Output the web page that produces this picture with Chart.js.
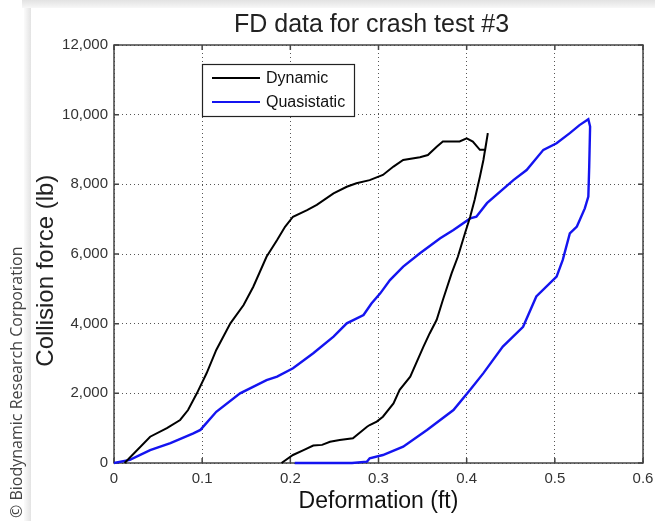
<!DOCTYPE html>
<html>
<head>
<meta charset="utf-8">
<title>FD data for crash test #3</title>
<script src="https://cdn.jsdelivr.net/npm/chart.js@4.4.1/dist/chart.umd.min.js"></script>
<style>
  html, body { margin: 0; padding: 0; background: #fff; }
  #wrap { width: 655px; height: 521px; }
</style>
</head>
<body>
<div id="wrap"><canvas id="fdChart" width="655" height="521"></canvas></div>
<script>
// Force vs deformation (ft / lb).
// Each series is one loading + unloading pass, in drawing order.
var dynDeform = [0.012, 0.041, 0.060, 0.075, 0.084, 0.094, 0.105, 0.116, 0.132, 0.147, 0.158, 0.173, 0.185, 0.194, 0.203,
    0.219, 0.230, 0.249, 0.264, 0.275, 0.290, 0.305, 0.317, 0.328, 0.347, 0.356, 0.366, 0.373, 0.392, 0.400, 0.407,
    0.415, 0.421, 0.424,
    0.419, 0.415, 0.409, 0.404, 0.398, 0.390, 0.383, 0.373, 0.366, 0.358, 0.351, 0.336, 0.324, 0.317, 0.305, 0.298,
    0.290, 0.287, 0.271, 0.256, 0.245, 0.236, 0.226, 0.215, 0.203, 0.190];
var dynForce = [0, 755, 1000, 1235, 1520, 2000, 2575, 3245, 4010, 4535, 5060, 5920, 6400, 6780, 7070,
    7260, 7410, 7740, 7930, 8030, 8120, 8270, 8510, 8700, 8780, 8840, 9080, 9230, 9230, 9320, 9230,
    8990, 8990, 9470,
    8700, 8220, 7550, 7070, 6590, 5920, 5450, 4680, 4110, 3720, 3340, 2480, 2100, 1710, 1330, 1190,
    1090, 1040, 710, 660, 610, 520, 500, 370, 230, 0];

var quasiDeform = [0, 0.018, 0.041, 0.064, 0.090, 0.098, 0.116, 0.143, 0.173, 0.185, 0.203, 0.226, 0.249, 0.264, 0.283,
    0.292, 0.302, 0.313, 0.328, 0.347, 0.370, 0.385, 0.404, 0.411, 0.423, 0.453, 0.468, 0.487, 0.502, 0.517, 0.528, 0.538,
    0.540, 0.539, 0.538, 0.534, 0.525, 0.517, 0.509, 0.502, 0.479, 0.464, 0.441, 0.419, 0.404, 0.385, 0.355, 0.328,
    0.305, 0.290, 0.287, 0.270, 0.205];
var quasiForce = [0, 90, 370, 570, 850, 950, 1470, 2000, 2380, 2480, 2720, 3150, 3630, 4010, 4250,
    4580, 4870, 5250, 5640, 6020, 6450, 6690, 7020, 7070, 7460, 8120, 8410, 8990, 9180, 9470, 9700, 9870,
    9660, 8510, 7650, 7310, 6790, 6590, 5830, 5350, 4780, 3910, 3340, 2580, 2100, 1520, 950, 470,
    230, 135, 40, 0, 0];

var xRange = [0, 0.6], xStep = 0.1;
var yRange = [0, 12000], yStep = 2000;

var FONT = '"Liberation Sans", Arial, Helvetica, sans-serif';
Chart.defaults.font.family = FONT;

function pairs(xs, ys) {
    return xs.map(function(x, i) { return { x: x, y: ys[i] }; });
}

// page background: white sheet with a faint shadow, copyright strip on the left
var paperPlugin = {
    id: 'paper',
    beforeDraw: function(chart) {
        var ctx = chart.ctx, w = chart.width, h = chart.height;
        ctx.save();
        ctx.fillStyle = '#fff';
        ctx.fillRect(0, 0, w, h);
        var g = ctx.createLinearGradient(0, 0, 0, 8);
        g.addColorStop(0, '#e2e2e2'); g.addColorStop(1, '#f7f7f7');
        ctx.fillStyle = g;
        ctx.fillRect(22, 0, w - 22, 8);
        var g2 = ctx.createLinearGradient(24, 0, 31, 0);
        g2.addColorStop(0, '#fbfbfb'); g2.addColorStop(1, '#e3e3e3');
        ctx.fillStyle = g2;
        ctx.fillRect(24, 8, 7, h - 8);
        ctx.translate(17, 518);
        ctx.rotate(-Math.PI / 2);
        ctx.font = '16px "Open Sans", sans-serif';
        ctx.fillStyle = '#444';
        ctx.textAlign = 'left';
        ctx.textBaseline = 'middle';
        ctx.fillText('\u00a9 Biodynamic Research Corporation', 0, 0);
        ctx.restore();
    }
};

// matlab-style box round the axes, with inward tick marks on all four sides
var framePlugin = {
    id: 'frame',
    beforeDatasetsDraw: function(chart) {
        var a = chart.chartArea, ctx = chart.ctx;
        var xs = chart.scales.x, ys = chart.scales.y;
        ctx.save();
        ctx.strokeStyle = '#444';
        ctx.lineWidth = 1.5;
        ctx.strokeRect(a.left, a.top, a.right - a.left, a.bottom - a.top);
        ctx.beginPath();
        xs.ticks.forEach(function(t) {
            var px = xs.getPixelForValue(t.value);
            ctx.moveTo(px, a.bottom); ctx.lineTo(px, a.bottom - 5);
            ctx.moveTo(px, a.top); ctx.lineTo(px, a.top + 5);
        });
        ys.ticks.forEach(function(t) {
            var py = ys.getPixelForValue(t.value);
            ctx.moveTo(a.left, py); ctx.lineTo(a.left + 5, py);
            ctx.moveTo(a.right, py); ctx.lineTo(a.right - 5, py);
        });
        ctx.stroke();
        ctx.restore();
    }
};

// boxed legend sitting inside the axes, top left
var legendBox = {
    id: 'legendBox',
    afterDatasetsDraw: function(chart) {
        var a = chart.chartArea, ctx = chart.ctx;
        var x = a.left + 88, y = a.top + 19, w = 152, h = 52;
        ctx.save();
        ctx.fillStyle = '#fff';
        ctx.fillRect(x, y, w, h);
        ctx.strokeStyle = '#222';
        ctx.lineWidth = 1.2;
        ctx.strokeRect(x + 0.5, y + 0.5, w, h);
        ctx.font = '16px ' + FONT;
        ctx.textBaseline = 'middle';
        chart.data.datasets.forEach(function(ds, i) {
            var cy = y + 14 + i * 24;
            ctx.strokeStyle = ds.borderColor;
            ctx.lineWidth = 2;
            ctx.beginPath(); ctx.moveTo(x + 10, cy); ctx.lineTo(x + 58, cy); ctx.stroke();
            ctx.fillStyle = '#111';
            ctx.fillText(ds.label, x + 64, cy + 1);
        });
        ctx.restore();
    }
};

new Chart(document.getElementById('fdChart'), {
    type: 'scatter',
    data: { datasets: [
        { label: 'Dynamic', data: pairs(dynDeform, dynForce), borderColor: '#000', borderWidth: 2,
          showLine: true, pointRadius: 0, tension: 0, clip: 4 },
        { label: 'Quasistatic', data: pairs(quasiDeform, quasiForce), borderColor: '#1414f0', borderWidth: 2.4,
          showLine: true, pointRadius: 0, tension: 0, clip: 4 }
    ] },
    options: {
        responsive: false, animation: false, events: [],
        layout: { padding: { left: 30, right: 12, top: 0, bottom: 0 } },
        plugins: {
            legend: { display: false },
            tooltip: { enabled: false },
            title: { display: true, fullSize: false, text: 'FD data for crash test #3\u00a0\u00a0',
                     color: '#222', font: { size: 25, weight: 'normal' }, padding: { top: 10, bottom: 5 } }
        },
        scales: {
            x: {
                type: 'linear', min: xRange[0], max: xRange[1],
                // let the "0.6" label hang into the right margin
                afterFit: function(s) { s.height = 58; s.paddingRight = 0; s.paddingLeft = 0; },
                ticks: { stepSize: xStep, padding: 7, color: '#333', font: { size: 15 },
                         callback: function(v) { return v === 0 ? '0' : v.toFixed(1); } },
                grid: { color: '#555', lineWidth: 1, drawTicks: false },
                border: { display: false, dash: [1, 3] },
                title: { display: true, text: 'Deformation (ft)', color: '#111',
                         font: { size: 23 }, padding: { top: 0, bottom: 6 } }
            },
            y: {
                min: yRange[0], max: yRange[1],
                afterFit: function(s) { s.width = 84; },
                ticks: { stepSize: yStep, padding: 6, color: '#333', font: { size: 15 },
                         callback: function(v) { return v.toLocaleString('en-US'); } },
                grid: { color: '#555', lineWidth: 1, drawTicks: false },
                border: { display: false, dash: [1, 3] },
                title: { display: true, text: 'Collision force (lb)\u00a0\u00a0\u00a0\u00a0\u00a0', color: '#222',
                         font: { size: 24 }, padding: { top: 2, bottom: 0 } }
            }
        }
    },
    plugins: [paperPlugin, framePlugin, legendBox]
});
</script>
</body>
</html>
